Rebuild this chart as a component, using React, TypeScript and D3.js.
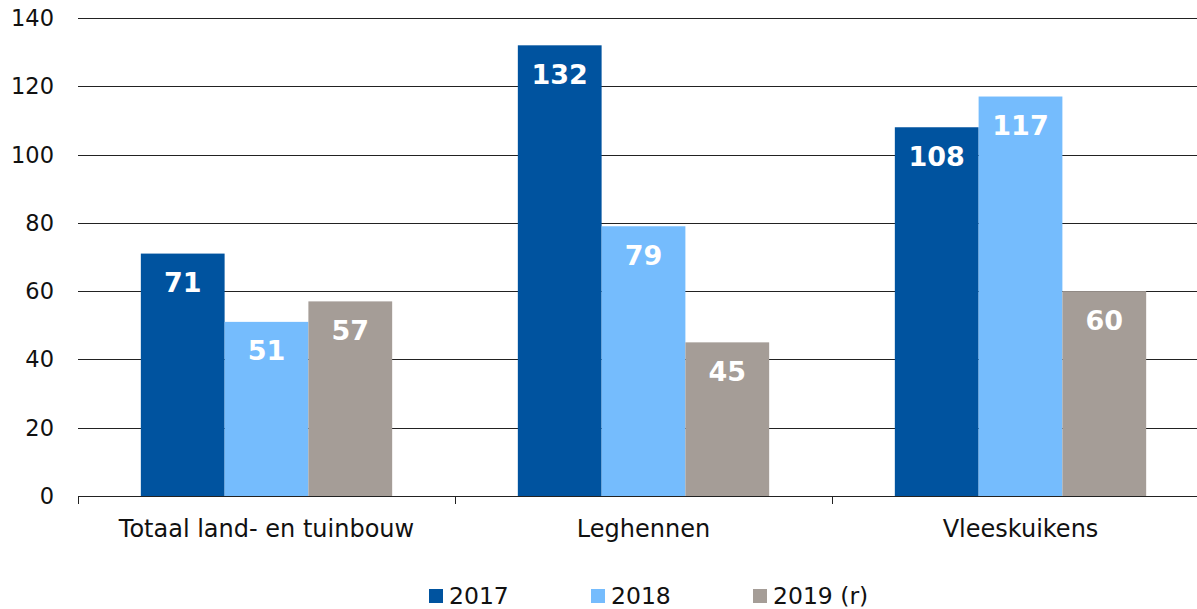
import React from "react";
import * as d3 from "d3";

const categories = ["Totaal land- en tuinbouw", "Leghennen", "Vleeskuikens"];
const seriesNames = ["2017", "2018", "2019 (r)"];
const values2017 = [71, 132, 108];
const values2018 = [51, 79, 117];
const values2019 = [57, 45, 60];
const yTicks = [0, 20, 40, 60, 80, 100, 120, 140];
const colors = ["#00539F", "#75BCFD", "#A59D97"];

const W = 1197;
const H = 609;
const left = 78;
const right = 1209;
const top = 18;
const bottom = 496;
const FONT = "Verdana, 'DejaVu Sans', sans-serif";

export default function App() {
  const series = [values2017, values2018, values2019];
  const x0 = d3.scaleBand<string>().domain(categories).range([left, right]).paddingInner(0).paddingOuter(0);
  const x1 = d3
    .scaleBand<string>()
    .domain(seriesNames)
    .range([0, x0.bandwidth()])
    .paddingOuter(63 / 84)
    .paddingInner(0);
  const y = d3.scaleLinear().domain([0, 140]).range([bottom, top]);

  const legendX = [429, 591, 753];

  return (
    <svg width={W} height={H} style={{ position: "absolute", left: 0, top: 0, background: "#fff" }}>
      {yTicks.map((t) => (
        <g key={t}>
          {t > 0 && (
            <line x1={left} x2={W} y1={Math.round(y(t)) + 0.5} y2={Math.round(y(t)) + 0.5} stroke="#222" strokeWidth={1} />
          )}
          <text x={54} y={y(t)} textAnchor="end" dominantBaseline="central" fontFamily={FONT} fontSize={22.5} fill="#111">
            {t}
          </text>
        </g>
      ))}
      {categories.map((c, ci) =>
        series.map((vals, si) => {
          const bx = (x0(c) as number) + (x1(seriesNames[si]) as number);
          const bw = x1.bandwidth();
          const v = vals[ci];
          return (
            <g key={c + si}>
              <rect x={bx} y={y(v)} width={bw} height={bottom - y(v)} fill={colors[si]} />
              <text
                x={bx + bw / 2}
                y={y(v) + 29}
                textAnchor="middle"
                dominantBaseline="central"
                fontFamily={FONT}
                fontWeight="bold"
                fontSize={27}
                fill="#fff"
              >
                {v}
              </text>
            </g>
          );
        })
      )}
      <line x1={left} x2={W} y1={bottom + 0.5} y2={bottom + 0.5} stroke="#222" strokeWidth={1} />
      {[...categories.map((c) => x0(c) as number), right].map((tx, i) => (
        <line key={i} x1={Math.round(tx) + 0.5} x2={Math.round(tx) + 0.5} y1={bottom} y2={bottom + 8} stroke="#222" />
      ))}
      {categories.map((c) => (
        <text
          key={c}
          x={(x0(c) as number) + x0.bandwidth() / 2}
          y={529}
          textAnchor="middle"
          dominantBaseline="central"
          fontFamily={FONT}
          fontSize={24}
          fill="#111"
        >
          {c}
        </text>
      ))}
      {seriesNames.map((s, i) => (
        <g key={s}>
          <rect x={legendX[i]} y={589} width={14} height={14} fill={colors[i]} />
          <text x={legendX[i] + 20} y={596} dominantBaseline="central" fontFamily={FONT} fontSize={23.5} fill="#111">
            {s}
          </text>
        </g>
      ))}
    </svg>
  );
}
